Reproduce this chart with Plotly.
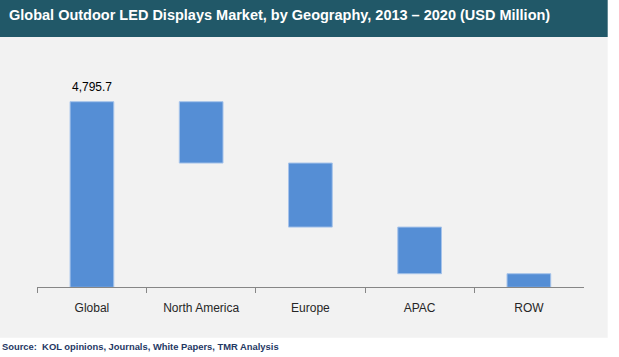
import plotly.graph_objects as go

# ---- data ----
categories = ["Global", "North America", "Europe", "APAC", "ROW"]
measures = ["absolute", "relative", "relative", "relative", "relative"]
values = [4795.7, -1585.0, -1655.0, -1205.0, -350.7]
total_label = "4,795.7"

W, H = 619, 357
BAR = "#558ED5"
EDGE = "#A6C3EA"

# plot area in pixels
x0, x1 = 37.3, 583.5
y_bottom, y_top = 287.3, 60.0
px_per_unit = 185.6 / 4795.7
ymax = (y_bottom - y_top) / px_per_unit

fig = go.Figure(go.Waterfall(
    x=categories,
    y=values,
    measure=measures,
    width=0.4,
    connector=dict(visible=False),
    increasing=dict(marker=dict(color=BAR, line=dict(color=EDGE, width=1))),
    decreasing=dict(marker=dict(color=BAR, line=dict(color=EDGE, width=1))),
    totals=dict(marker=dict(color=BAR, line=dict(color=EDGE, width=1))),
    hoverinfo="skip",
    showlegend=False,
))

fig.add_annotation(
    x=categories[0], y=values[0], xref="x", yref="y",
    text=total_label, showarrow=False, yanchor="bottom", yshift=6,
    font=dict(family="Liberation Sans, Arial", size=12, color="#000000"),
)

def py(p):
    return 1 - p / H

shapes = [
    dict(type="rect", xref="paper", yref="paper", x0=0, x1=607.7 / W,
         y0=py(37), y1=1, fillcolor="#215868", line=dict(width=0), layer="below"),
    dict(type="rect", xref="paper", yref="paper", x0=0, x1=607.7 / W,
         y0=py(337.7), y1=py(37), fillcolor="#F2F2F2", line=dict(width=0), layer="below"),
]

fig.add_annotation(
    xref="paper", yref="paper", x=7 / W, y=py(15), xanchor="left", yanchor="middle",
    text="<b>Global Outdoor LED Displays Market, by Geography, 2013 – 2020 (USD Million)</b>",
    showarrow=False, font=dict(family="Liberation Sans, Arial", size=14.5, color="#FFFFFF"),
)
fig.add_annotation(
    xref="paper", yref="paper", x=0, y=py(346), xanchor="left", yanchor="middle",
    text="<b>Source:  KOL opinions, Journals, White Papers, TMR Analysis</b>",
    showarrow=False, font=dict(family="Liberation Sans, Arial", size=9.4, color="#1F3864"),
)

fig.update_layout(
    width=W, height=H,
    margin=dict(l=0, r=0, t=0, b=0),
    paper_bgcolor="#FFFFFF",
    plot_bgcolor="rgba(0,0,0,0)",
    shapes=shapes,
    xaxis=dict(
        domain=[x0 / W, x1 / W],
        showline=True, linecolor="#868686", linewidth=1,
        ticks="outside", ticklen=5, tickcolor="#868686", tickson="boundaries",
        ticklabelstandoff=9,
        showgrid=False, zeroline=False,
        tickfont=dict(family="Liberation Sans, Arial", size=12, color="#262626"),
    ),
    yaxis=dict(
        domain=[py(y_bottom), py(y_top)],
        range=[0, ymax], visible=False, showgrid=False, zeroline=False,
    ),
)

fig.write_html(
    "out.html",
    config={"displayModeBar": False},
    post_script="document.body.style.margin='0';document.body.style.overflow='hidden';",
)
